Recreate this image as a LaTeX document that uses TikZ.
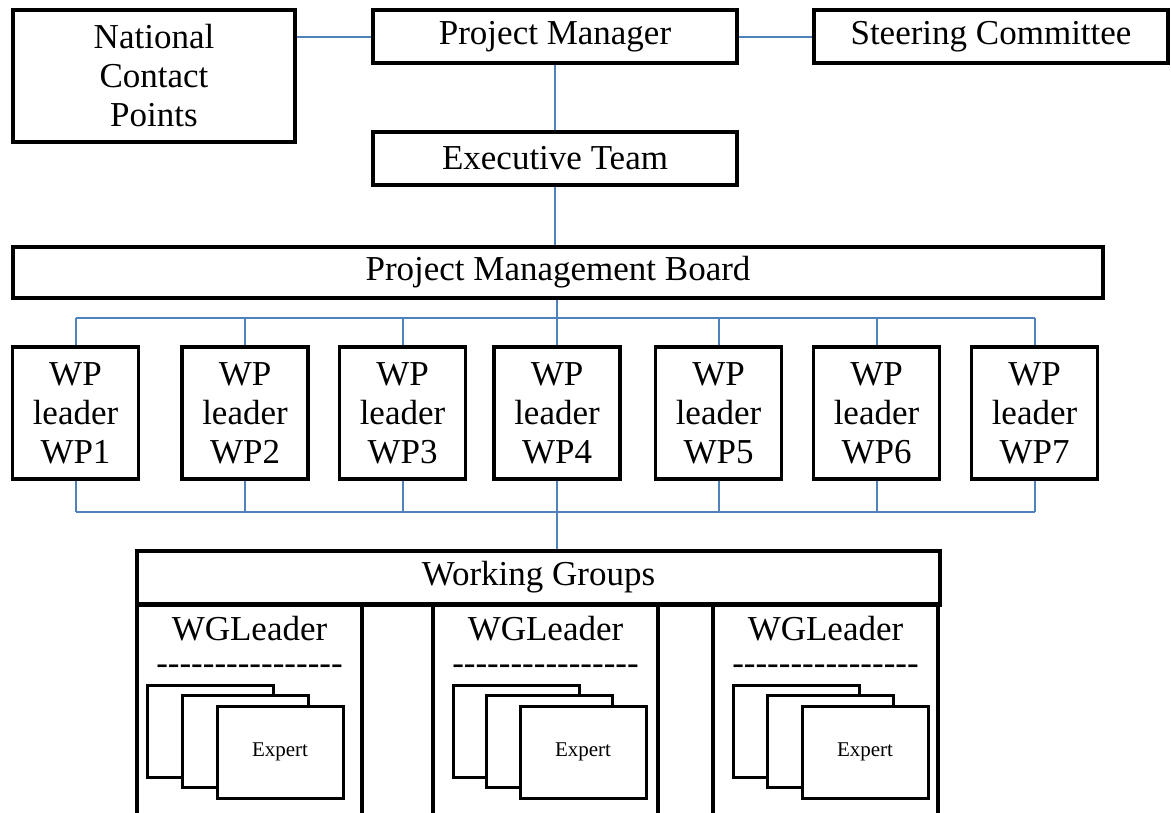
\documentclass[tikz,border=0pt]{standalone}
\usepackage{fontspec}
\setmainfont{Liberation Serif}
\usepackage{tikz}
\usetikzlibrary{positioning}

\definecolor{linkblue}{RGB}{79,129,189}
\newcommand{\dashrow}{\foreach \k in {1,...,16}{-}}

\tikzset{
    unit/.style={draw, line width=3.5pt, fill=white, align=center, inner sep=0pt,
                 font=\fontsize{35}{39}\selectfont},
    wpbox/.style={unit, minimum width=126pt, minimum height=132pt},
    card/.style={draw, line width=3pt, fill=white, inner sep=0pt,
                 minimum width=126pt, minimum height=92pt},
    link/.style={draw=linkblue, line width=2pt}
}

\begin{document}
\begin{tikzpicture}[x=1pt, y=-1pt]
        \useasboundingbox (0,0) rectangle (1171,812);
        \clip (0,0) rectangle (1171,812);

        % top rows
        \node[unit, minimum width=282pt, minimum height=132pt] (ncp) at (154,76) {National\\Contact\\Points};
        \node[unit, minimum width=364pt, minimum height=53pt] (pm) at (555,36.5) {Project Manager};
        \node[unit, minimum width=354pt, minimum height=53pt] (sc) at (991,36.5) {Steering Committee};
        \node[unit, minimum width=364pt, minimum height=53pt] (et) at (555,158.5) {Executive Team};
        \node[unit, minimum width=1090pt, minimum height=51pt] (pmb) at (558,272.5) {Project Management Board};

        \draw[link] (pm.west) -- (pm.west -| ncp.east);
        \draw[link] (pm.east) -- (sc.west);
        \draw[link] (pm) -- (et);
        \draw[link] (et.south) -- (et.south |- pmb.north);

        % work packages
        \foreach \i/\x in {1/75.5, 2/245, 3/402.5, 4/557, 5/718.5, 6/876.5, 7/1034.5}
            \node[wpbox] (wp\i) at (\x,413) {WP\\leader\\WP\i};

        \coordinate (topbus) at (0,318);
        \coordinate (botbus) at (0,512);
        \draw[link] (pmb.south -| wp4.north) -- (wp4.north |- topbus);
        \draw[link] (wp1.north |- topbus) -- (wp7.north |- topbus);
        \draw[link] (wp1.south |- botbus) -- (wp7.south |- botbus);
        \foreach \i in {1,...,7} {
            \draw[link] (wp\i.north) -- (wp\i.north |- topbus);
            \draw[link] (wp\i.south) -- (wp\i.south |- botbus);
        }

        % working groups
        \node[unit, minimum width=803pt, minimum height=53pt] (groups) at (538.5,577.5) {Working Groups};
        \draw[link] (wp4.south |- botbus) -- (wp4.south |- groups.north);

        \foreach \n/\l/\a/\s in {1/137/10/35, 2/433/20/33.5, 3/713/20/34.5} {
            \node[draw, line width=3.5pt, fill=white, inner sep=0pt, minimum width=225pt,
                  minimum height=236pt] (wg\n) at ({\l+112.5},722) {};
            \node[font=\fontsize{35}{39}\selectfont, inner sep=0pt] (wgl\n) at ({\l+112.5},629) {WGLeader};
            \node[font=\fontsize{35}{39}\selectfont, inner sep=0pt, text height=17pt,
                  text depth=0pt] (dash\n) at ({\l+112.5},666) {\dashrow};
            \node[card] (wg\n a) at ({\l+\a+63},731.5) {};
            \node[card] (wg\n b) at ({\l+\a+\s+63},741) {};
            \node[card, font=\fontsize{21}{24}\selectfont] (wg\n c) at ({\l+\a+2*\s+63},752) {Expert};
        }
        \draw[line width=2.5pt] (groups.south west) -- (groups.south east);
\end{tikzpicture}
\end{document}
